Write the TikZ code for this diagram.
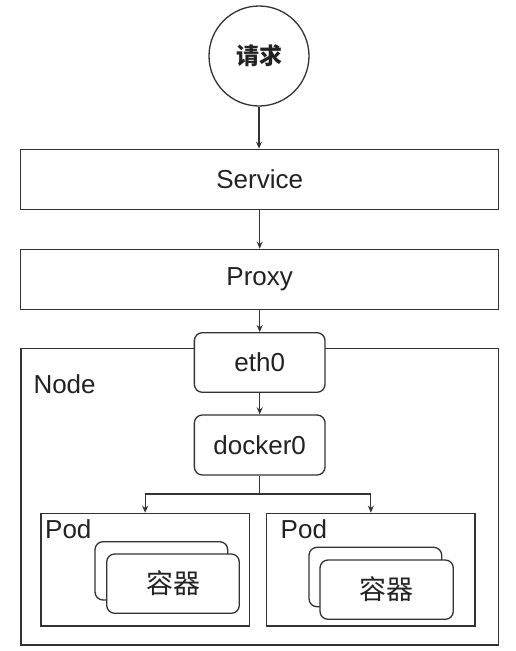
\documentclass[tikz,border=0pt]{standalone}
\usepackage{fontspec}
\setmainfont{Liberation Sans}
\newfontfamily\cjk{Noto Sans CJK SC}
\usetikzlibrary{arrows.meta}
\definecolor{linec}{HTML}{333333}
\definecolor{textc}{HTML}{222222}
\begin{document}
\begin{tikzpicture}[x=1pt,y=-1pt,
  box/.style={draw=linec, line width=1.3pt, fill=white, inner sep=0pt, text=textc,
    font=\fontsize{26}{30}\selectfont},
  rbox/.style={box, rounded corners=8pt},
  lbl/.style={anchor=base west, inner sep=0pt, text=textc, font=\fontsize{26}{30}\selectfont},
  cjklbl/.style={font=\cjk\fontsize{27}{30}\selectfont},
  arr/.style={draw=linec, line width=1.2pt, -{Stealth[length=7pt,width=6pt]}},
  conn/.style={draw=linec, line width=1.2pt},
]
\useasboundingbox (0,0) rectangle (515,651);

\node[circle, draw=linec, line width=1.3pt, minimum size=100pt, inner sep=0pt, text=textc,
  font=\cjk\bfseries\fontsize{23}{26}\selectfont] (req) at (259,56) {请求};

\node[box, minimum width=478pt, minimum height=60pt] (svc) at (259.7,179.3) {Service};
\node[box, minimum width=478pt, minimum height=60pt] (proxy) at (259.7,279.3) {Proxy};

\node[box, minimum width=477.3pt, minimum height=296.7pt] (nodebox) at (259.65,496.65) {};
\node[lbl] (nodelbl) at (33.3,393) {Node};

\node[rbox, minimum width=130.7pt, minimum height=59.6pt] (eth) at (259.7,362.5) {eth0};
\node[rbox, minimum width=130.7pt, minimum height=60pt] (dock) at (259.7,445) {docker0};

\node[box, minimum width=208.3pt, minimum height=112.7pt] (podL) at (145.15,569.65) {};
\node[box, minimum width=208.3pt, minimum height=112.7pt] (podR) at (370.85,569.65) {};
\node[lbl] (podLlbl) at (45,538) {Pod};
\node[lbl] (podRlbl) at (280.5,538) {Pod};

\node[rbox, minimum width=132.7pt, minimum height=58.3pt] (cLb) at (161.35,570.85) {};
\node[rbox, cjklbl, minimum width=132.6pt, minimum height=59.3pt] (cLf) at (173,583.65) {容器};
\node[rbox, minimum width=132.7pt, minimum height=59.4pt] (cRb) at (375.35,577) {};
\node[rbox, cjklbl, minimum width=133.3pt, minimum height=59.3pt] (cRf) at (386.65,589.65) {容器};

\draw[arr] (req.south) -- (req.south |- svc.north);
\draw[arr] (svc) -- (proxy);
\draw[arr] (proxy) -- (eth);
\draw[arr] (eth) -- (dock);
\coordinate (split) at (259.7,494);
\draw[arr] (dock.south) -- (split) -| (podL.north);
\draw[arr] (dock.south) -- (split) -| (podR.north);
\end{tikzpicture}
\end{document}
